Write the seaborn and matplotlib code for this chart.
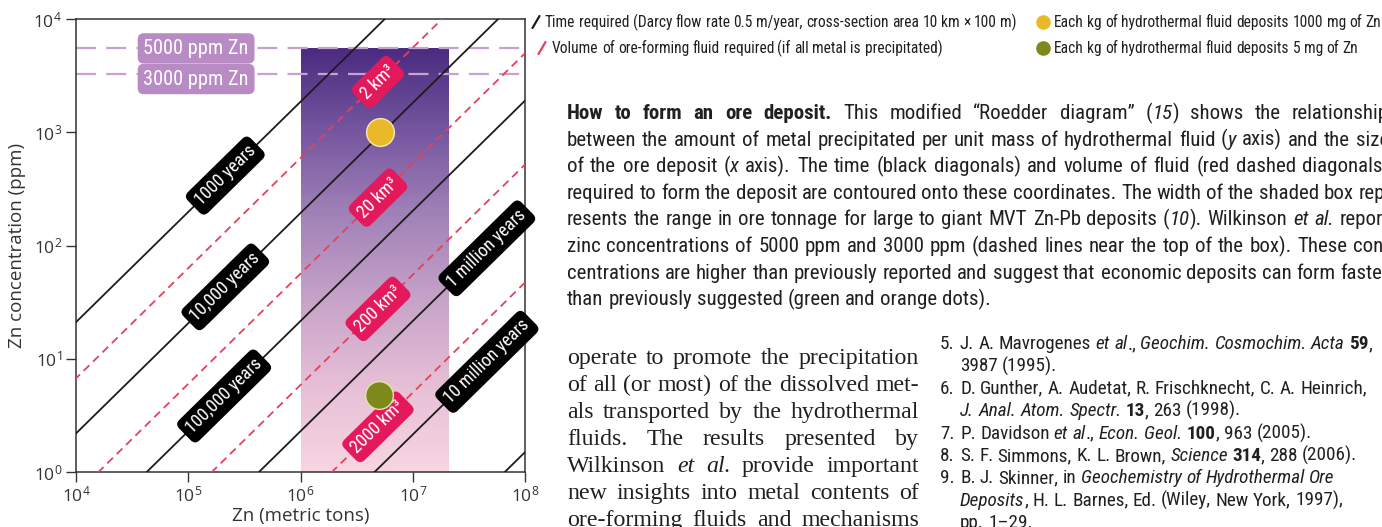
import numpy as np
import matplotlib
matplotlib.use("Agg")
import matplotlib.pyplot as plt
import seaborn as sns
from matplotlib import font_manager
from matplotlib.lines import Line2D
from matplotlib.colors import LinearSegmentedColormap

# ---------------- data ----------------
time_labels = ["1000 years", "10,000 years", "100,000 years",
               "1 million years", "10 million years", ""]
# log10(Zn tons) where each time contour meets 1 ppm
time_intercepts = [2.64, 3.65, 4.63, 5.63, 6.66, 7.82]
vol_labels = ["2 km³", "20 km³", "200 km³", "2000 km³"]
vol_intercepts = [3.15, 4.20, 5.21, 6.28]
contour_slope = 0.973

box_tons = [1.0e6, 2.1e7]
box_top_ppm = 5500

ppm_levels = [5500, 3250]
ppm_labels = ["5000 ppm Zn", "3000 ppm Zn"]

dot_tons = [5.1e6, 5.0e6]
dot_ppm = [1000, 4.8]
dot_colors = ["#e9b92a", "#7d8a1a"]

x_ticks = [1e4, 1e5, 1e6, 1e7, 1e8]
y_ticks = [1, 10, 100, 1000, 10000]

# ---------------- fonts ----------------
sns.set_theme(style="white")
names = {f.name for f in font_manager.fontManager.ttflist}
narrow = next((c for c in ["Roboto Condensed", "Liberation Sans Narrow", "Archivo Narrow"] if c in names), None)
if narrow:
    SANS_N = [narrow, "DejaVu Sans"]
    k = 1.0
else:
    SANS_N = ["Liberation Sans", "DejaVu Sans"]
    k = 0.85
CHART = ["Open Sans", "DejaVu Sans"]
SERIF = ["Liberation Serif", "DejaVu Serif"]
plt.rcParams["font.family"] = CHART
plt.rcParams["mathtext.default"] = "regular"

W, H = 1382, 527
fig = plt.figure(figsize=(W / 100, H / 100), dpi=100)
fig.patch.set_facecolor("white")


def fx(x):
    return x / W


def fy(y):
    return 1 - y / H


ax = fig.add_axes([fx(76), fy(472), 449 / W, 453 / H])
ax.set_xscale("log")
ax.set_yscale("log")
ax.set_xlim(1e4, 1e8)
ax.set_ylim(1, 1e4)

# gradient box
cmap = LinearSegmentedColormap.from_list(
    "box", ["#f7d5e0", "#e6bfd6", "#c7a3c8", "#a283b8", "#7657a0", "#4a2b80"])
yy = np.logspace(0, np.log10(box_top_ppm), 300)
zz = (np.log10(yy[:-1]) / np.log10(box_top_ppm))[:, None]
ax.pcolormesh(box_tons, yy, zz, cmap=cmap, shading="flat",
              antialiased=False, edgecolors="none", zorder=1)

for lv in ppm_levels:
    sns.lineplot(x=[1e4, 1e8], y=[lv, lv], ax=ax, color="#c7a1d2", lw=1.6,
                 linestyle=(0, (9, 4.6)), zorder=2)

xs = np.array([1e3, 1e9])


def contour(b):
    return 10 ** (contour_slope * (np.log10(xs) - b))


for b in vol_intercepts:
    sns.lineplot(x=xs, y=contour(b), ax=ax, color="#e5405c", lw=1.3,
                 linestyle=(0, (4.4, 2.9)), zorder=3)
for b in time_intercepts:
    sns.lineplot(x=xs, y=contour(b), ax=ax, color="#1c1c1c", lw=1.3, zorder=3)

sns.scatterplot(x=dot_tons[:1], y=dot_ppm[:1], ax=ax, color=dot_colors[0], s=400,
                edgecolor="#f6e9b8", linewidth=1.0, zorder=6, legend=False)
sns.scatterplot(x=dot_tons[1:], y=dot_ppm[1:], ax=ax, color=dot_colors[1], s=400,
                edgecolor="#e0e4b0", linewidth=1.0, zorder=6, legend=False)


def on_line(b, lx):
    x = 10 ** lx
    y = 10 ** (contour_slope * (lx - b))
    p1 = ax.transData.transform((x, y))
    p2 = ax.transData.transform((x * 10, y * 10 ** contour_slope))
    ang = np.degrees(np.arctan2(p2[1] - p1[1], p2[0] - p1[0]))
    return x, y, ang


time_label_pos = [5.33, 5.33, 5.32, 7.66, 7.66]
for lab, b, lx in zip(time_labels, time_intercepts, time_label_pos):
    x, y, ang = on_line(b, lx)
    ax.text(x, y, lab, rotation=ang, rotation_mode="anchor", ha="center", va="center",
            color="white", fontsize=13.0 * k, family=SANS_N, zorder=5, clip_on=False,
            bbox=dict(boxstyle="round,pad=0.3,rounding_size=0.35", fc="black", ec="none"))

for lab, b in zip(vol_labels, vol_intercepts):
    x, y, ang = on_line(b, 6.69)
    ax.text(x, y, lab, rotation=ang, rotation_mode="anchor", ha="center", va="center",
            color="white", fontsize=13.0 * k, family=SANS_N, zorder=5,
            bbox=dict(boxstyle="round,pad=0.3,rounding_size=0.35", fc="#e3195b", ec="none"))

ppm_label_y = [5500, 2950]
for lab, yv in zip(ppm_labels, ppm_label_y):
    ax.text(10 ** 5.07, yv, lab, ha="center", va="center", color="white",
            fontsize=14.6 * k, family=SANS_N, zorder=5,
            bbox=dict(boxstyle="round,pad=0.28,rounding_size=0.3", fc="#b98bc4", ec="none"))

ax.set_xticks(x_ticks)
ax.set_yticks(y_ticks)
ax.minorticks_off()
ax.tick_params(which="major", direction="out", length=7, width=1, color="#333333",
               labelsize=12.5, labelcolor="#333333", pad=3, bottom=True, left=True)
for sp in ax.spines.values():
    sp.set_color("#333333")
    sp.set_linewidth(1.1)
ax.set_xlabel("Zn (metric tons)", fontsize=13.5, color="#333333", labelpad=1)
ax.set_ylabel("Zn concentration (ppm)", fontsize=13.5, color="#333333", labelpad=5)
ax.grid(False)


def slash(x, y, color):
    fig.add_artist(Line2D([fx(x - 3.5), fx(x + 3.5)], [fy(y + 6), fy(y - 6)],
                          color=color, lw=1.6))


def dot(x, y, color):
    fig.add_artist(Line2D([fx(x)], [fy(y)], marker="o", ms=10.5, color=color,
                          markeredgecolor="none", linestyle="none"))


renderer = fig.canvas.get_renderer()
TXT = "#231f20"
STY = {"n": ("normal", "normal"), "b": ("bold", "normal"), "i": ("normal", "italic")}


def tokens(segs):
    out = []
    pending = False
    for text, st in segs:
        parts = text.split(" ")
        for i, p in enumerate(parts):
            if i > 0:
                pending = True
            if p:
                out.append((p, st, pending and len(out) > 0))
                pending = False
    return out


_sw = {}


def space_w(family, size, st):
    key = (tuple(family), size, st)
    if key not in _sw:
        w, s = STY[st]
        a = fig.text(0, 0, "x x", family=family, fontsize=size, weight=w, style=s)
        b = fig.text(0, 0, "xx", family=family, fontsize=size, weight=w, style=s)
        _sw[key] = a.get_window_extent(renderer).width - b.get_window_extent(renderer).width
        a.remove()
        b.remove()
    return _sw[key]


def draw_line(x0, base, segs, family, size, justify=None, color=TXT):
    toks = tokens(segs)
    arts, widths = [], []
    for t, st, sp in toks:
        w, s = STY[st]
        a = fig.text(0, fy(base), t, family=family, fontsize=size, weight=w, style=s,
                     color=color, va="baseline", ha="left")
        arts.append(a)
        widths.append(a.get_window_extent(renderer).width)
    gaps = [space_w(family, size, st) if sp else 0.0 for (t, st, sp) in toks]
    if justify is not None:
        nsp = sum(1 for (_, _, sp) in toks if sp)
        extra = (justify - x0) - (sum(widths) + sum(gaps))
        if nsp and extra > 0:
            gaps = [g + (extra / nsp if sp else 0) for g, (_, _, sp) in zip(gaps, toks)]
    x = x0
    for a, w, g in zip(arts, widths, gaps):
        x += g
        a.set_x(fx(x))
        x += w


LEG = 11.2 * k
slash(536, 22, "#1c1c1c")
slash(542, 48, "#e5405c")
draw_line(545, 27, [("Time required (Darcy flow rate 0.5 m/year, cross-section area 10 km × 100 m)", "n")],
          SANS_N, LEG)
draw_line(552, 53, [("Volume of ore-forming fluid required (if all metal is precipitated)", "n")],
          SANS_N, LEG)
dot(1043, 22, dot_colors[0])
dot(1043, 48, dot_colors[1])
draw_line(1054, 27, [("Each kg of hydrothermal fluid deposits 1000 mg of Zn", "n")], SANS_N, LEG)
draw_line(1054, 53, [("Each kg of hydrothermal fluid deposits 5 mg of Zn", "n")], SANS_N, LEG)

caption = [
    [("How to form an ore deposit.", "b"), (" This modified “Roedder diagram” (", "n"), ("15", "i"),
     (") shows the relationship", "n")],
    [("between the amount of metal precipitated per unit mass of hydrothermal fluid (", "n"), ("y", "i"),
     (" axis) and the size", "n")],
    [("of the ore deposit (", "n"), ("x", "i"),
     (" axis). The time (black diagonals) and volume of fluid (red dashed diagonals)", "n")],
    [("required to form the deposit are contoured onto these coordinates. The width of the shaded box rep-", "n")],
    [("resents the range in ore tonnage for large to giant MVT Zn-Pb deposits (", "n"), ("10", "i"),
     ("). Wilkinson ", "n"), ("et al.", "i"), (" report", "n")],
    [("zinc concentrations of 5000 ppm and 3000 ppm (dashed lines near the top of the box). These con-", "n")],
    [("centrations are higher than previously reported and suggest that economic deposits can form faster", "n")],
    [("than previously suggested (green and orange dots).", "n")],
]
for i, segs in enumerate(caption):
    just = 1389 if i < len(caption) - 1 else None
    draw_line(567, 119 + i * 26.6, segs, SANS_N, 15.0 * k, justify=just)

body = [
    [("operate to promote the precipitation", "n")],
    [("of all (or most) of the dissolved met-", "n")],
    [("als transported by the hydrothermal", "n")],
    [("fluids. The results presented by", "n")],
    [("Wilkinson ", "n"), ("et al.", "i"), (" provide important", "n")],
    [("new insights into metal contents of", "n")],
    [("ore-forming fluids and mechanisms", "n")],
]
for i, segs in enumerate(body):
    draw_line(567, 364 + i * 27, segs, SERIF, 17.2, justify=919)

refs = [
    ("5.", [("J. A. Mavrogenes ", "n"), ("et al", "i"), ("., ", "n"), ("Geochim. Cosmochim. Acta ", "i"),
            ("59", "b"), (",", "n")]),
    ("", [("3987 (1995).", "n")]),
    ("6.", [("D. Gunther, A. Audetat, R. Frischknecht, C. A. Heinrich,", "n")]),
    ("", [("J. Anal. Atom. Spectr. ", "i"), ("13", "b"), (", 263 (1998).", "n")]),
    ("7.", [("P. Davidson ", "n"), ("et al", "i"), ("., ", "n"), ("Econ. Geol. ", "i"), ("100", "b"),
            (", 963 (2005).", "n")]),
    ("8.", [("S. F. Simmons, K. L. Brown, ", "n"), ("Science ", "i"), ("314", "b"), (", 288 (2006).", "n")]),
    ("9.", [("B. J. Skinner, in ", "n"), ("Geochemistry of Hydrothermal Ore", "i")]),
    ("", [("Deposits", "i"), (", H. L. Barnes, Ed. (Wiley, New York, 1997),", "n")]),
    ("", [("pp. 1–29.", "n")]),
]
for i, (num, segs) in enumerate(refs):
    base = 349 + i * 22.4
    if num:
        draw_line(940, base, [(num, "n")], SANS_N, 13.8 * k)
    draw_line(960, base, segs, SANS_N, 13.8 * k)

fig.savefig("out.png", dpi=100, facecolor="white")
